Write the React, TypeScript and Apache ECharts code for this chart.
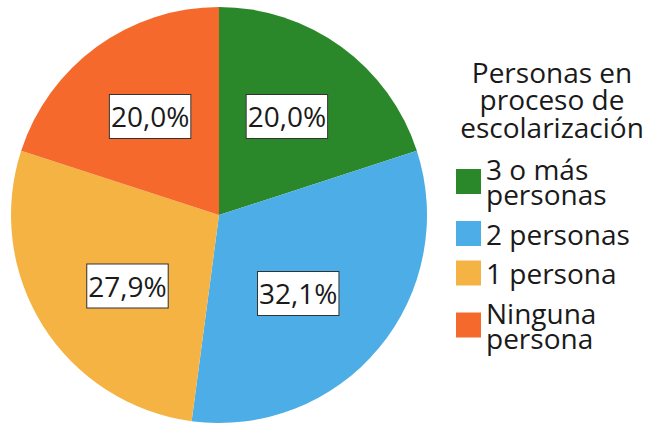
import React, { useEffect, useRef } from "react";
import * as echarts from "echarts";

const categories = ["3 o más\npersonas", "2 personas", "1 persona", "Ninguna\npersona"];
const values = [20.0, 32.1, 27.9, 20.0];
const colors = ["#2A882A", "#4DADE6", "#F5B344", "#F5692C"];
const titleText = "Personas en\nproceso de\nescolarización";
// label nudges (layout only), in pixels
const labelOffsets = [
  [5, -12],
  [-3, 10],
  [-1, 14],
  [-6, -12],
];

const FONT = "'Open Sans', 'Noto Sans', sans-serif";
const TEXT_COLOR = "#1a1a1a";

export default function App() {
  const ref = useRef<HTMLDivElement>(null);

  useEffect(() => {
    if (!ref.current) return;
    const chart = echarts.init(ref.current, undefined, { renderer: "svg" });
    const data = categories.map((name, i) => ({
      name,
      value: values[i],
      itemStyle: { color: colors[i] },
      label: { offset: labelOffsets[i] },
    }));
    chart.setOption({
      animation: false,
      title: {
        text: titleText,
        left: 552,
        top: 58,
        padding: 0,
        textAlign: "center",
        textStyle: {
          fontFamily: FONT,
          fontSize: 28,
          fontWeight: "normal",
          lineHeight: 27.5,
          color: TEXT_COLOR,
        },
      },
      legend: {
        orient: "vertical",
        left: 456,
        top: 151,
        padding: 0,
        itemWidth: 25,
        itemHeight: 25,
        itemGap: 3.5,
        icon: "rect",
        selectedMode: false,
        data: categories,
        textStyle: {
          fontFamily: FONT,
          fontSize: 28,
          lineHeight: 25,
          color: TEXT_COLOR,
          padding: [11, 0, 0, 0],
        },
      },
      series: [
        {
          type: "pie",
          center: [219, 215],
          radius: 208,
          startAngle: 90,
          clockwise: true,
          data,
          labelLine: { show: false },
          itemStyle: { borderWidth: 0 },
          emphasis: { disabled: true },
          label: {
            show: true,
            position: "inside",
            formatter: (p: any) => `${Number(p.value).toFixed(1).replace(".", ",")}%`,
            fontFamily: FONT,
            fontSize: 28,
            lineHeight: 39,
            color: TEXT_COLOR,
            backgroundColor: "#ffffff",
            borderColor: "#333333",
            borderWidth: 1,
            padding: [2, 1],
          },
        },
      ],
    });
    return () => chart.dispose();
  }, []);

  return (
    <div
      ref={ref}
      style={{ position: "fixed", left: 0, top: 0, width: 647, height: 423, background: "#ffffff" }}
    />
  );
}
